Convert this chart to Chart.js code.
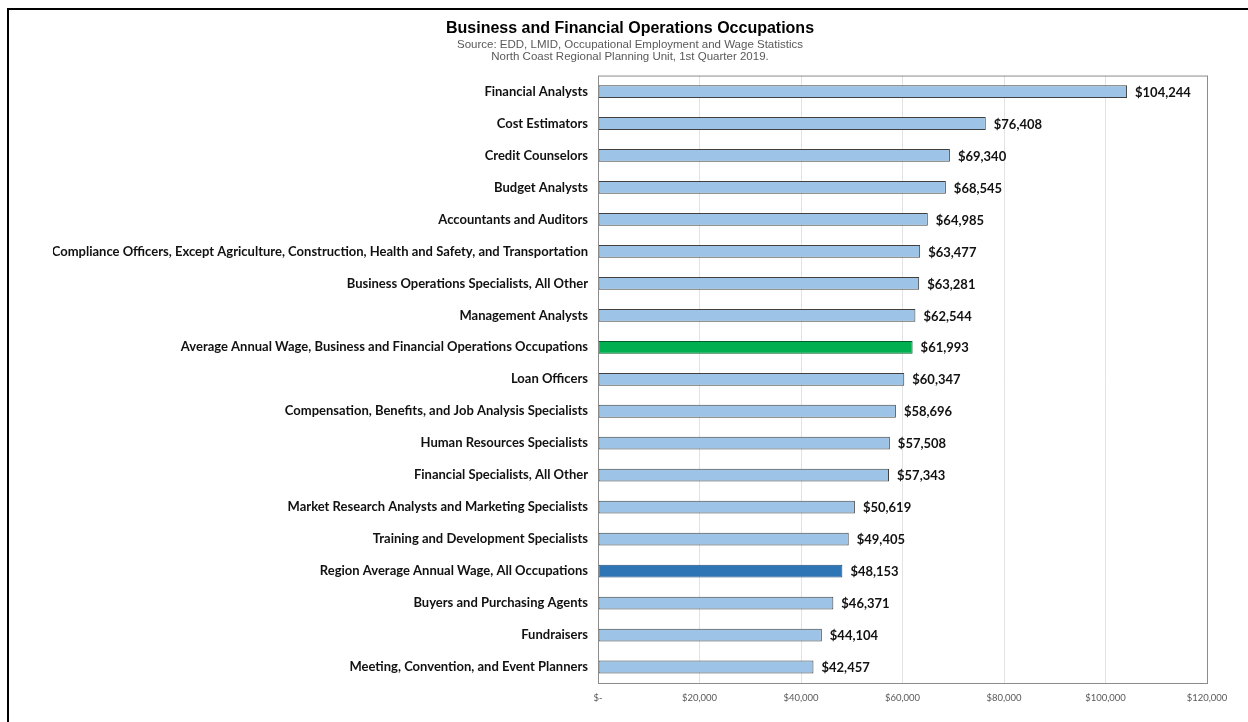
<!DOCTYPE html>
<html lang="en">
<head>
  <meta charset="UTF-8">
  <title>Business and Financial Operations Occupations</title>
  <script src="https://cdn.jsdelivr.net/npm/chart.js"></script>
  <style>
    body { margin: 0; background: #fff; }
    #wrap { position: relative; width: 1248px; height: 722px; }
    #frame { position: absolute; left: 7px; top: 8px; right: 0; bottom: 0;
             border-left: 2px solid #000; border-top: 2px solid #000; pointer-events: none; }
  </style>
</head>
<body>
  <div id="wrap">
    <canvas id="wageChart" width="1248" height="722"></canvas>
    <div id="frame"></div>
  </div>

  <script>
    const occupations = [
      'Financial Analysts',
      'Cost Estimators',
      'Credit Counselors',
      'Budget Analysts',
      'Accountants and Auditors',
      'Compliance Officers, Except Agriculture, Construction, Health and Safety, and Transportation',
      'Business Operations Specialists, All Other',
      'Management Analysts',
      'Average Annual Wage, Business and Financial Operations Occupations',
      'Loan Officers',
      'Compensation, Benefits, and Job Analysis Specialists',
      'Human Resources Specialists',
      'Financial Specialists, All Other',
      'Market Research Analysts and Marketing Specialists',
      'Training and Development Specialists',
      'Region Average Annual Wage, All Occupations',
      'Buyers and Purchasing Agents',
      'Fundraisers',
      'Meeting, Convention, and Event Planners'
    ];
    const annualWages = [104244, 76408, 69340, 68545, 64985, 63477, 63281, 62544, 61993,
                         60347, 58696, 57508, 57343, 50619, 49405, 48153, 46371, 44104, 42457];
    const groupAverage = 'Average Annual Wage, Business and Financial Operations Occupations';
    const regionAverage = 'Region Average Annual Wage, All Occupations';

    const money = v => '$' + v.toLocaleString('en-US');

    const fills = occupations.map(o => o === groupAverage ? '#00b050' : o === regionAverage ? '#2e75b6' : '#9dc3e6');
    const edges = occupations.map(o => o === groupAverage ? '#00602b' : o === regionAverage ? '#1f4e79' : '#404040');

    // value labels at the end of each bar + plot frame
    const extras = {
      id: 'extras',
      afterDatasetsDraw(chart) {
        const { ctx, chartArea } = chart;
        ctx.save();
        ctx.strokeStyle = '#8c8c8c';
        ctx.lineWidth = 1;
        ctx.strokeRect(chartArea.left + 0.5, chartArea.top + 0.5,
                       chartArea.right - chartArea.left, chartArea.bottom - chartArea.top);
        ctx.font = 'bold 13px Lato';
        ctx.fillStyle = '#111';
        ctx.textBaseline = 'middle';
        chart.getDatasetMeta(0).data.forEach((bar, i) => {
          ctx.fillText(money(annualWages[i]), bar.x + 8, bar.y + 1);
        });
        ctx.restore();
      }
    };

    new Chart(document.getElementById('wageChart'), {
      type: 'bar',
      data: {
        labels: occupations,
        datasets: [{
          data: annualWages,
          backgroundColor: fills,
          borderColor: edges,
          borderWidth: 1,
          borderSkipped: false,
          categoryPercentage: 1,
          barPercentage: 0.4
        }]
      },
      plugins: [extras],
      options: {
        indexAxis: 'y',
        responsive: false,
        animation: false,
        layout: { padding: { top: 19, right: 41, bottom: 0, left: 53 } },
        plugins: {
          legend: { display: false },
          tooltip: { enabled: false },
          title: {
            display: true,
            text: 'Business and Financial Operations Occupations',
            color: '#000',
            font: { family: 'Liberation Sans', size: 16, weight: 'bold', lineHeight: 1.15 },
            padding: { top: 0, bottom: 0 }
          },
          subtitle: {
            display: true,
            text: ['Source: EDD, LMID, Occupational Employment and Wage Statistics',
                   'North Coast Regional Planning Unit, 1st Quarter 2019.'],
            color: '#595959',
            font: { family: 'Liberation Sans', size: 11.5, lineHeight: 1.05 },
            padding: { top: 1, bottom: 13 }
          }
        },
        scales: {
          x: {
            min: 0,
            max: 120000,
            ticks: {
              stepSize: 20000,
              padding: 9,
              color: '#595959',
              font: { family: 'Lato', size: 9.5 },
              callback: v => v === 0 ? '$-' : money(v)
            },
            grid: { color: '#e3e3e3', drawTicks: false },
            border: { display: false },
            afterFit: s => { s.height = 39; }
          },
          y: {
            ticks: {
              padding: 10,
              color: '#111',
              font: { family: 'Lato', size: 13, weight: 'bold' }
            },
            grid: { display: false, drawTicks: false },
            border: { display: false },
            afterFit: s => { s.width = 545; }
          }
        }
      }
    });
  </script>
</body>
</html>
